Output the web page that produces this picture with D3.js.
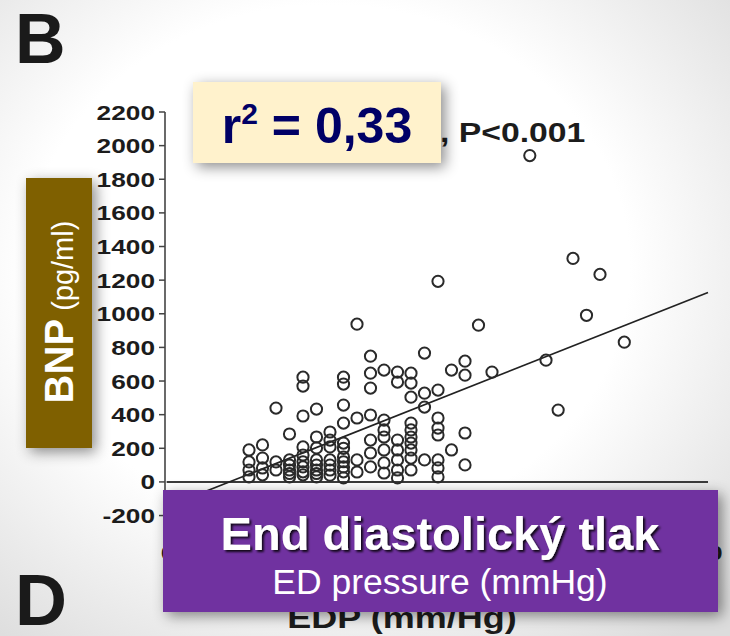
<!DOCTYPE html>
<html><head><meta charset="utf-8">
<script src="https://cdn.jsdelivr.net/npm/d3@7"></script>
<style>body{margin:0;background:#fff}svg{display:block}</style>
</head><body>
<script>
// ---- data ----
const edp = [
  6,6,6,6,
  7,7,7,7,
  8,8,8,
  9,9,9,9,9,9,
  10,10,10,10,10,10,10,10,10,
  11,11,11,11,11,11,11,11,
  12,12,12,12,12,12,12,
  13,13,13,13,13,13,13,13,13,13,13,
  14,14,14,14,
  15,15,15,15,15,15,15,
  16,16,16,16,16,16,16,
  17,17,17,17,17,17,17,
  18,18,18,18,18,18,18,18,18,18,
  19,19,19,19,
  20,20,20,20,20,20,20,20,
  21,21,
  22,22,22,22,
  23,24,26.8,28,28.9,30,31,32,33.8
];
const bnp = [
  190,119,71,30,
  220,142,83,42,
  439,119,71,
  285,131,100,71,50,30,
  623,570,392,208,160,120,89,60,42,
  433,267,202,131,100,71,50,30,
  297,249,208,131,100,71,40,
  623,582,457,350,231,200,148,120,89,60,24,
  938,380,131,59,
  748,647,558,398,249,172,89,
  665,368,309,267,190,113,53,
  653,594,249,190,131,71,24,
  647,588,504,350,309,267,231,190,142,71,
  766,528,445,131,
  1193,546,380,320,279,131,83,30,
  665,190,
  718,635,291,101,
  932,653,1941,724,427,1329,991,1234,831
];
const yTickValues = [-200,0,200,400,600,800,1000,1200,1400,1600,1800,2000,2200];
const xTickValues = [0,10,20,30,40];
const xTickLabelsVisible = [0,40];   // the others are hidden behind the purple banner
const fitCoef = [-145, 31.8];   // intercept, slope of regression line
const fitRange = [0, 40];

const W = 730, H = 636;
const svg = d3.select("body").append("svg").attr("width", W).attr("height", H);
const defs = svg.append("defs");

const rg = defs.append("radialGradient").attr("id","vig").attr("cx","45%").attr("cy","42%").attr("r","75%");
rg.append("stop").attr("offset","55%").attr("stop-color","#ffffff");
rg.append("stop").attr("offset","100%").attr("stop-color","#dcdcdc");

function shadow(id, dx, dy, sd, op){
  const f = defs.append("filter").attr("id", id).attr("x","-30%").attr("y","-30%").attr("width","160%").attr("height","160%");
  f.append("feDropShadow").attr("dx",dx).attr("dy",dy).attr("stdDeviation",sd)
   .attr("flood-color","#000").attr("flood-opacity",op);
}
shadow("boxShadow", 4, 4, 7, 0.45);
shadow("txtShadow", 2, 2, 1.2, 0.85);

svg.append("rect").attr("width",W).attr("height",H).attr("fill","url(#vig)");

const x = d3.scaleLinear().domain([0,40]).range([168,708]);
const y = d3.scaleLinear().domain([-280,2200]).range([529,112]);

const font = "'Liberation Sans', Arial, sans-serif";
const stretch = 1.25;

// y axis
const gy = svg.append("g").attr("transform","translate(165,0)");
gy.append("line").attr("y1", y(2200)).attr("y2", y(-280)).attr("stroke","#444").attr("stroke-width",1.6);
gy.selectAll("line.t").data(yTickValues).join("line").attr("class","t")
  .attr("x1",-6).attr("x2",0).attr("y1",d=>y(d)).attr("y2",d=>y(d))
  .attr("stroke","#444").attr("stroke-width",1.5);
gy.selectAll("text").data(yTickValues).join("text")
  .attr("transform", d=>`translate(-10,${y(d)+7.5}) scale(${stretch},1)`)
  .attr("text-anchor","end").attr("font-family",font).attr("font-weight","bold")
  .attr("font-size",21).attr("fill","#1c1c1c").text(d=>d);

// x axis (mostly covered)
const gx = svg.append("g").attr("transform",`translate(0,${y(-280)})`);
gx.append("line").attr("x1",x(0)).attr("x2",x(40)).attr("stroke","#444").attr("stroke-width",1.6);
gx.selectAll("line.t").data(xTickValues).join("line").attr("class","t")
  .attr("x1",d=>x(d)).attr("x2",d=>x(d)).attr("y1",0).attr("y2",6)
  .attr("stroke","#444").attr("stroke-width",1.5);
gx.selectAll("text").data(xTickLabelsVisible).join("text")
  .attr("transform", d=>`translate(${x(d)},31) scale(${stretch},1)`)
  .attr("text-anchor","middle").attr("font-family",font).attr("font-weight","bold")
  .attr("font-size",21).attr("fill","#1c1c1c").text(d=>d);

// zero reference line
svg.append("line").attr("x1",x(-0.1)).attr("x2",x(40)).attr("y1",y(0)).attr("y2",y(0))
  .attr("stroke","#3a3a3a").attr("stroke-width",2);

// regression line
const line = d3.line().x(d=>x(d)).y(d=>y(fitCoef[0]+fitCoef[1]*d));
svg.append("path").attr("d", line(fitRange)).attr("fill","none").attr("stroke","#222").attr("stroke-width",1.7);

// points
svg.append("g").selectAll("circle").data(d3.range(edp.length)).join("circle")
  .attr("cx", i=>x(edp[i])).attr("cy", i=>y(bnp[i])).attr("r",5.6)
  .attr("fill","none").attr("stroke","#2a2a2a").attr("stroke-width",2);

// ", P<0.001"
svg.append("text").attr("transform",`translate(440,142) scale(${stretch},1)`)
  .attr("font-family",font).attr("font-weight","bold").attr("font-size",27).attr("fill","#1c1c1c")
  .text(", P<0.001");

// EDP label below purple box
svg.append("text").attr("transform",`translate(402,628) scale(1.2,1)`).attr("text-anchor","middle")
  .attr("font-family",font).attr("font-weight","bold").attr("font-size",30).attr("fill","#1c1c1c")
  .text("EDP (mm/Hg)");

// panel letters
svg.append("text").attr("x",15).attr("y",63).attr("font-family",font).attr("font-weight","bold")
  .attr("font-size",70).attr("fill","#1a1a1a").text("B");
svg.append("text").attr("x",15).attr("y",625).attr("font-family",font).attr("font-weight","bold")
  .attr("font-size",72).attr("fill","#1a1a1a").text("D");

// brown BNP box
svg.append("rect").attr("x",26).attr("y",178).attr("width",66).attr("height",270)
  .attr("fill","#7f6000").attr("filter","url(#boxShadow)");
const bt = svg.append("text").attr("transform","translate(73,312) rotate(-90)")
  .attr("text-anchor","middle").attr("font-family",font).attr("fill","#fff");
bt.append("tspan").attr("font-weight","bold").attr("font-size",40).text("BNP");
bt.append("tspan").attr("font-size",29).text(" (pg/ml)");

// r^2 box
svg.append("rect").attr("x",193).attr("y",82).attr("width",248).attr("height",81)
  .attr("fill","#fff2cc").attr("filter","url(#boxShadow)");
const rt = svg.append("text").attr("x",317).attr("y",143).attr("text-anchor","middle")
  .attr("font-family",font).attr("font-weight","bold").attr("font-size",50).attr("fill","#000066");
rt.append("tspan").text("r");
rt.append("tspan").attr("font-size",30).attr("dy",-19).text("2");
rt.append("tspan").attr("dy",19).text(" = 0,33");

// purple box
svg.append("rect").attr("x",163).attr("y",490).attr("width",555).attr("height",122)
  .attr("fill","#7030a0").attr("filter","url(#boxShadow)");
svg.append("text").attr("x",440).attr("y",550).attr("text-anchor","middle")
  .attr("font-family",font).attr("font-weight","bold").attr("font-size",47).attr("fill","#fff")
  .attr("filter","url(#txtShadow)").text("End diastolický tlak");
svg.append("text").attr("x",440).attr("y",594).attr("text-anchor","middle")
  .attr("font-family",font).attr("font-size",35.5).attr("fill","#fff").text("ED pressure (mmHg)");
</script>
</body></html>
